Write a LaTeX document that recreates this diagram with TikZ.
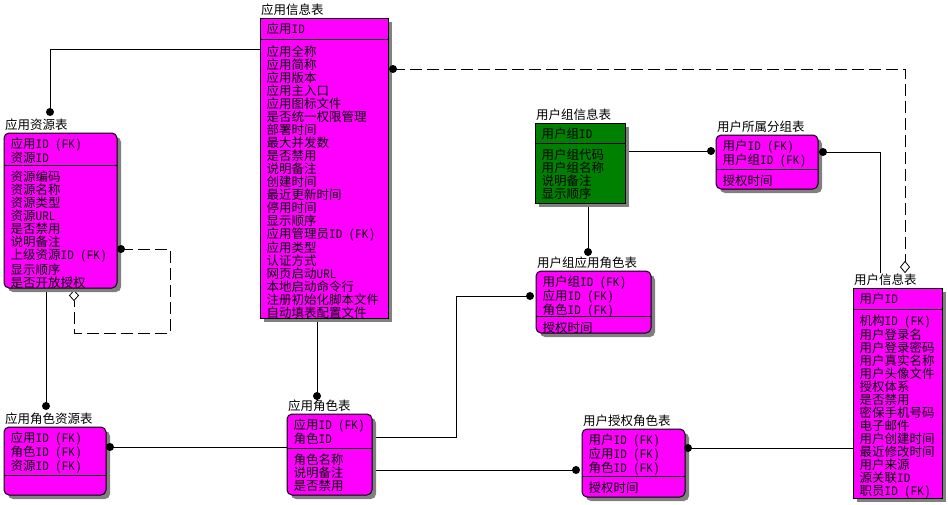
\documentclass[tikz,border=0pt]{standalone}
\usepackage{fontspec}
\setmainfont{Noto Sans CJK SC}
\newfontfamily\monofont[Scale=1.04,FakeStretch=0.84]{Liberation Mono}
\newcommand\en[1]{{\monofont #1}}
\usetikzlibrary{shadows}
\definecolor{ermag}{RGB}{255,0,255}
\definecolor{ergreen}{RGB}{0,128,0}
\pgfdeclarelayer{back}
\pgfdeclarelayer{bg}
\pgfsetlayers{back,bg,main}
\tikzset{
 tbl/.style={draw=black, line width=1pt, inner sep=0pt, outer sep=0pt,
   drop shadow={shadow xshift=4pt, shadow yshift=-4pt, fill=black!50, opacity=1}},
 sq/.style={tbl, fill=ermag},
 rd/.style={tbl, fill=ermag, rounded corners=5pt},
 gr/.style={tbl, fill=ergreen},
 ttl/.style={inner sep=0pt, font=\fontsize{12.5}{13}\selectfont, anchor=north west},
 attr/.style={inner sep=0pt, font=\fontsize{12.5}{13}\selectfont, align=left, anchor=north west},
 conn/.style={line width=1pt},
 dconn/.style={line width=1pt, dash pattern=on 12pt off 5pt},
 diam/.style={draw=black, fill=white, line width=0.8pt},
}
\newcommand\ent[9][sq]{%
 \pgfmathsetmacro\entw{#5-#3}\pgfmathsetmacro\enth{#6-#4}%
 \node[#1, minimum width=\entw pt, minimum height=\enth pt, anchor=north west] (#2) at (#3,#4) {};
 \node[ttl] (#2-t) at (#3+1,#4-14) {#7};
 \draw[line width=1pt] (#3,#8) -- (#5,#8);
 \coordinate (#2-d) at (#3,#8);
 \node[attr] (#2-k) at (#3+6.5,#4+4.5) {#9};
}
\begin{document}
\begin{tikzpicture}[x=1pt,y=-1pt]
\useasboundingbox (0,0) rectangle (948,504);
\begin{pgfonlayer}{back}
 \fill[white] (0,0) rectangle (948,504);
\end{pgfonlayer}

% entities
\ent[sq]{app}{260}{18}{388}{318}{应用信息表}{39}{应用\en{ID}}
\node[attr] (app-a) at ([shift={(6.5,6.5)}]app-d) {应用全称\\应用简称\\应用版本\\应用主入口\\应用图标文件\\是否统一权限管理\\部署时间\\最大并发数\\是否禁用\\说明备注\\创建时间\\最近更新时间\\停用时间\\显示顺序\\应用管理员\en{ID (FK)}\\应用类型\\认证方式\\网页启动\en{URL}\\本地启动命令行\\注册初始化脚本文件\\自动填表配置文件};

\ent[rd]{res}{4}{133}{117}{288}{应用资源表}{165}{应用\en{ID (FK)}\\资源\en{ID}}
\node[attr] (res-a) at ([shift={(6.5,6)}]res-d) {资源编码\\资源名称\\资源类型\\资源\en{URL}\\是否禁用\\说明备注\\上级资源\en{ID (FK)}\\显示顺序\\是否开放授权};

\ent[gr]{grp}{535}{123}{625}{203}{用户组信息表}{143}{用户组\en{ID}}
\node[attr] (grp-a) at ([shift={(6.5,6)}]grp-d) {用户组代码\\用户组名称\\说明备注\\显示顺序};

\ent[rd]{ug}{716}{135}{818}{189}{用户所属分组表}{169}{用户\en{ID (FK)}\\用户组\en{ID (FK)}}
\node[attr] (ug-a) at ([shift={(6.5,6)}]ug-d) {授权时间};

\ent[rd]{gar}{536}{271}{651}{333}{用户组应用角色表}{316}{用户组\en{ID (FK)}\\应用\en{ID (FK)}\\角色\en{ID (FK)}}
\node[attr] (gar-a) at ([shift={(6.5,6)}]gar-d) {授权时间};

\ent[sq]{user}{853}{288}{942}{498}{用户信息表}{309}{用户\en{ID}}
\node[attr] (user-a) at ([shift={(6.5,6)}]user-d) {机构\en{ID (FK)}\\用户登录名\\用户登录密码\\用户真实名称\\用户头像文件\\授权体系\\是否禁用\\密保手机号码\\电子邮件\\用户创建时间\\最近修改时间\\用户来源\\源关联\en{ID}\\职员\en{ID (FK)}};

\ent[rd]{rrs}{4}{427}{106}{495}{应用角色资源表}{475}{应用\en{ID (FK)}\\角色\en{ID (FK)}\\资源\en{ID (FK)}}

\ent[rd]{role}{287}{414}{372}{495}{应用角色表}{448}{应用\en{ID (FK)}\\角色\en{ID}}
\node[attr] (role-a) at ([shift={(6.5,6)}]role-d) {角色名称\\说明备注\\是否禁用};

\ent[rd]{ur}{582}{429}{685}{497}{用户授权角色表}{476}{用户\en{ID (FK)}\\应用\en{ID (FK)}\\角色\en{ID (FK)}}
\node[attr] (ur-a) at ([shift={(6.5,6)}]ur-d) {授权时间};

% connectors
\begin{pgfonlayer}{bg}
 \coordinate (resdot) at (50,112);
 \draw[conn] (app.west |- 0,49) -| (resdot);
 \coordinate (roledot) at (317,396);
 \draw[conn] (app.south -| roledot) -- (roledot);
 \coordinate (appdot) at (393,69);
 \coordinate (userdia) at (905,267);
 \draw[dconn] (appdot) -| ([shift={(0,-5.5)}]userdia);
 \coordinate (resself) at (121,249);
 \coordinate (resdia) at (74,295.5);
 \coordinate (selfa) at (170,249);
 \coordinate (selfb) at (170,333);
 \draw[dconn] (resself) -- (selfa) -- (selfb) -| ([shift={(0,5)}]resdia);
 \draw[diam] ([shift={(0,-5)}]resdia) -- ([shift={(4.5,0)}]resdia) -- ([shift={(0,5)}]resdia) -- ([shift={(-4.5,0)}]resdia) -- cycle;
 \coordinate (rrsdot) at (46,406);
 \draw[conn] (res.south -| rrsdot) -- (rrsdot);
 \coordinate (rrsright) at (110,447);
 \draw[conn] (rrsright) -- (role.west |- rrsright);
 \coordinate (gardot) at (530,296);
 \coordinate (bendg) at (456,437);
 \draw[conn] (role.east |- bendg) -- (bendg) |- (gardot);
 \coordinate (urdot) at (576,470);
 \draw[conn] (role.east |- urdot) -- (urdot);
 \coordinate (urright) at (688,448);
 \draw[conn] (urright) -- (user.west |- urright);
 \coordinate (ugdot) at (711,151);
 \draw[conn] (grp.east |- ugdot) -- (ugdot);
 \coordinate (gardottop) at (588,252);
 \draw[conn] (grp.south -| gardottop) -- (gardottop);
 \coordinate (ugright) at (823,152);
 \coordinate (userline) at (880,273);
 \draw[conn] (ugright) -| (userline);
\end{pgfonlayer}

\foreach \c in {resdot,roledot,appdot,resself,rrsdot,rrsright,gardot,urdot,urright,ugdot,gardottop,ugright}
  \fill (\c) circle (4);
\draw[diam] ([shift={(0,-5.5)}]userdia) -- ([shift={(4.5,0)}]userdia) -- ([shift={(0,5.5)}]userdia) -- ([shift={(-4.5,0)}]userdia) -- cycle;
\end{tikzpicture}
\end{document}
